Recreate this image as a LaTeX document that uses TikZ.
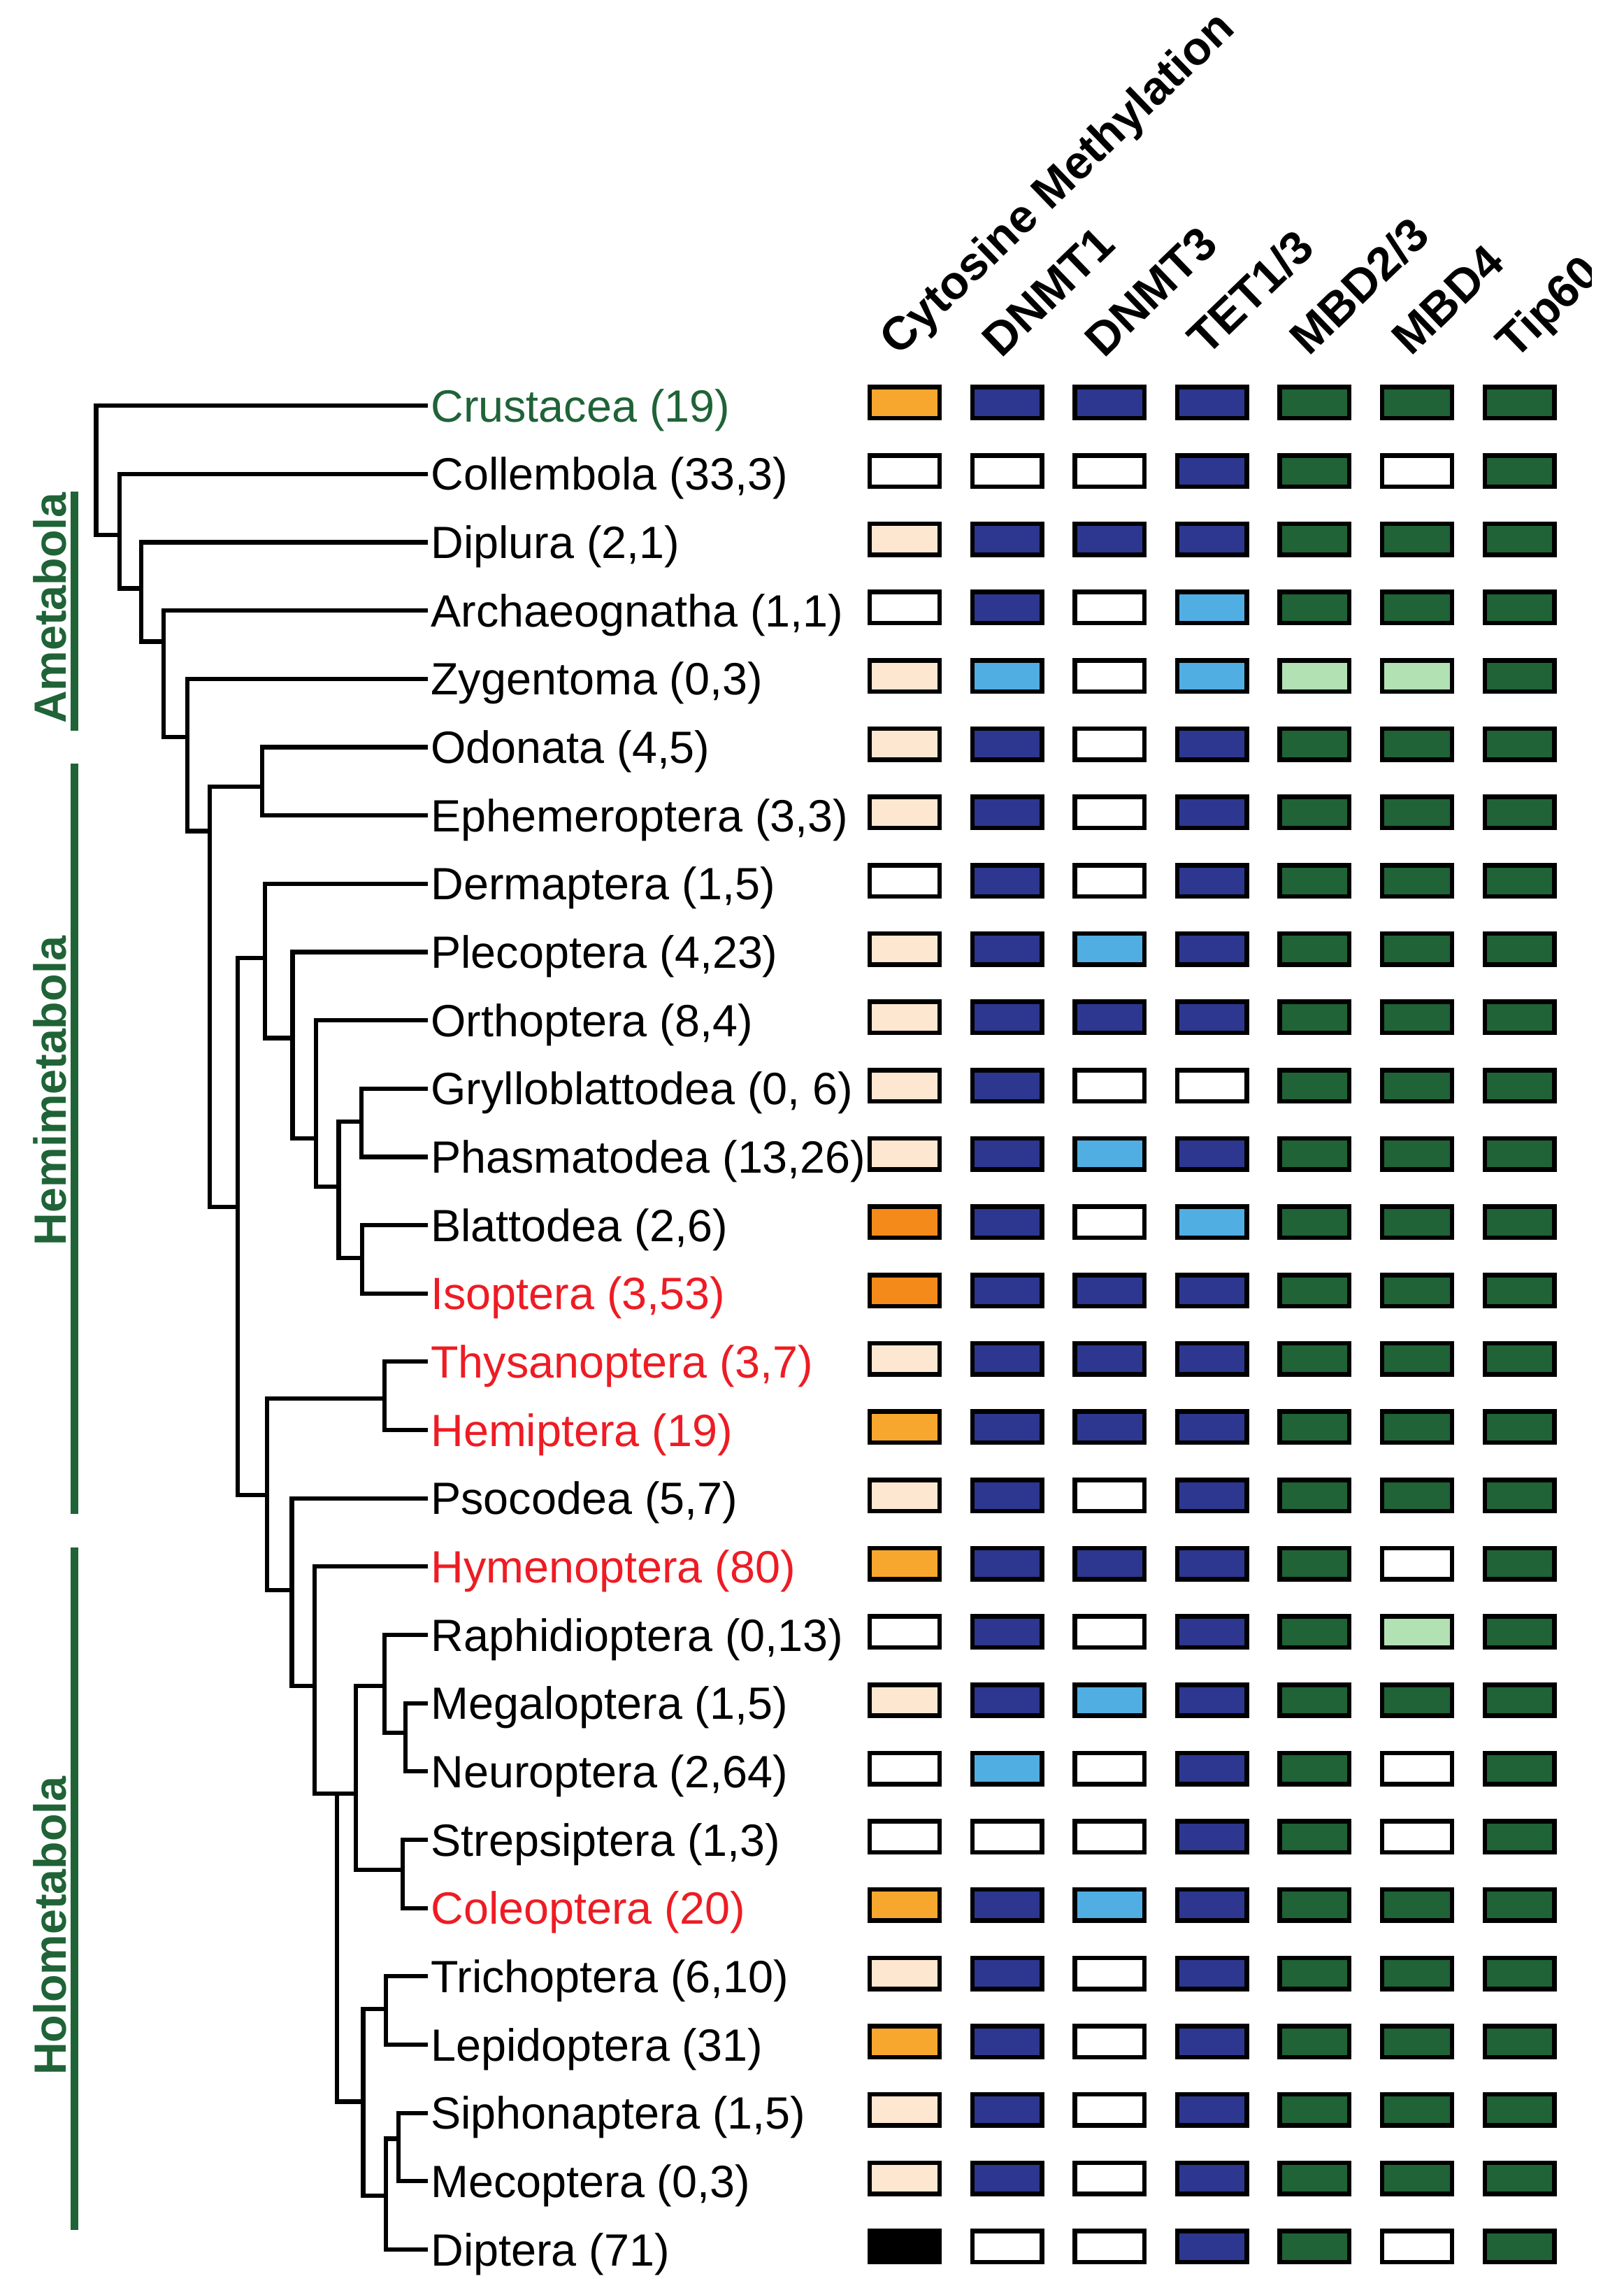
\documentclass[tikz,border=0pt]{standalone}
\usepackage{fontspec}
\setmainfont{Liberation Sans}
\usetikzlibrary{positioning}

\definecolor{cellO}{HTML}{F8A72E}
\definecolor{cellD}{HTML}{F48A1A}
\definecolor{cellP}{HTML}{FEE7D1}
\definecolor{cellW}{HTML}{FFFFFF}
\definecolor{cellK}{HTML}{000000}
\definecolor{cellN}{HTML}{2D3790}
\definecolor{cellB}{HTML}{51AEE3}
\definecolor{cellG}{HTML}{1F6337}
\definecolor{cellL}{HTML}{B2E1B3}
\definecolor{insred}{HTML}{ED1C24}

\begin{document}
\begin{tikzpicture}[x=1pt, y=-1pt]
    \tikzset{leaf/.style={anchor=west, inner xsep=2pt, inner ysep=0pt, text height=22.2pt, text depth=0pt, font=\fontsize{31}{37}\selectfont}}
    \tikzset{branch/.style={line width=3pt, line join=miter}}
    \tikzset{cell/.style={rectangle, draw=black, line width=3.1pt, minimum width=47.7pt, minimum height=21.3pt, inner sep=0pt}}
    \tikzset{header/.style={rotate=44, anchor=base west, inner sep=0pt, font=\fontsize{32}{38}\selectfont\bfseries}}
    \tikzset{group/.style={rotate=90, anchor=base, inner sep=0pt, text=cellG, font=\fontsize{31}{37}\selectfont\bfseries}}
    \tikzset{bar/.style={draw=cellG, line width=5pt}}
    \useasboundingbox (0,0) rectangle (1113,1568);

    % Taxa
    \node[leaf, text=cellG] (crustacea) at (293.2, 278.0) {Crustacea (19)};
    \node[leaf] (collembola) at (293.2, 324.8) {Collembola (33,3)};
    \node[leaf] (diplura) at (293.2, 371.6) {Diplura (2,1)};
    \node[leaf] (archaeognatha) at (293.2, 418.4) {Archaeognatha (1,1)};
    \node[leaf] (zygentoma) at (293.2, 465.2) {Zygentoma (0,3)};
    \node[leaf] (odonata) at (293.2, 512.0) {Odonata (4,5)};
    \node[leaf] (ephemeroptera) at (293.2, 558.8) {Ephemeroptera (3,3)};
    \node[leaf] (dermaptera) at (293.2, 605.6) {Dermaptera (1,5)};
    \node[leaf] (plecoptera) at (293.2, 652.4) {Plecoptera (4,23)};
    \node[leaf] (orthoptera) at (293.2, 699.2) {Orthoptera (8,4)};
    \node[leaf] (grylloblattodea) at (293.2, 746.0) {Grylloblattodea (0, 6)};
    \node[leaf] (phasmatodea) at (293.2, 792.8) {Phasmatodea (13,26)};
    \node[leaf] (blattodea) at (293.2, 839.6) {Blattodea (2,6)};
    \node[leaf, text=insred] (isoptera) at (293.2, 886.4) {Isoptera (3,53)};
    \node[leaf, text=insred] (thysanoptera) at (293.2, 933.2) {Thysanoptera (3,7)};
    \node[leaf, text=insred] (hemiptera) at (293.2, 980.0) {Hemiptera (19)};
    \node[leaf] (psocodea) at (293.2, 1026.8) {Psocodea (5,7)};
    \node[leaf, text=insred] (hymenoptera) at (293.2, 1073.6) {Hymenoptera (80)};
    \node[leaf] (raphidioptera) at (293.2, 1120.4) {Raphidioptera (0,13)};
    \node[leaf] (megaloptera) at (293.2, 1167.2) {Megaloptera (1,5)};
    \node[leaf] (neuroptera) at (293.2, 1214.0) {Neuroptera (2,64)};
    \node[leaf] (strepsiptera) at (293.2, 1260.8) {Strepsiptera (1,3)};
    \node[leaf, text=insred] (coleoptera) at (293.2, 1307.6) {Coleoptera (20)};
    \node[leaf] (trichoptera) at (293.2, 1354.4) {Trichoptera (6,10)};
    \node[leaf] (lepidoptera) at (293.2, 1401.2) {Lepidoptera (31)};
    \node[leaf] (siphonaptera) at (293.2, 1448.0) {Siphonaptera (1,5)};
    \node[leaf] (mecoptera) at (293.2, 1494.8) {Mecoptera (0,3)};
    \node[leaf] (diptera) at (293.2, 1541.6) {Diptera (71)};

    % Internal nodes of the tree
    \coordinate (root) at (65.9, 366.5);
    \coordinate (n2) at (82.0, 366.5);
    \coordinate (n3) at (96.9, 403.3);
    \coordinate (n4) at (112.3, 439.7);
    \coordinate (n5) at (128.4, 505.0);
    \coordinate (n6) at (143.8, 569.6);
    \coordinate (odo eph) at (179.8, 539.2);
    \coordinate (n7) at (163.1, 827.0);
    \coordinate (derm) at (181.5, 656.4);
    \coordinate (plec) at (200.5, 711.4);
    \coordinate (orth) at (216.6, 780.2);
    \coordinate (gry bla) at (232.2, 813.2);
    \coordinate (gry pha) at (247.8, 768.7);
    \coordinate (bla iso) at (248.2, 862.2);
    \coordinate (paraneo) at (183.0, 1024.5);
    \coordinate (thy hem) at (263.6, 958.5);
    \coordinate (psoc) at (200.1, 1089.9);
    \coordinate (holo) at (215.5, 1155.3);
    \coordinate (aparaglossata) at (231.1, 1229.2);
    \coordinate (neuropterida) at (244.0, 1229.2);
    \coordinate (raph) at (263.6, 1155.3);
    \coordinate (meg neu) at (277.8, 1187.4);
    \coordinate (str col) at (276.1, 1281.5);
    \coordinate (mecopterida) at (248.9, 1440.3);
    \coordinate (tri lep) at (264.7, 1376.8);
    \coordinate (antliophora) at (264.7, 1504.6);
    \coordinate (sip mec) at (273.3, 1465.7);

    \draw[branch] (crustacea.west) -| (root) |- (n2);
    \draw[branch] (collembola.west) -| (n2) |- (n3);
    \draw[branch] (diplura.west) -| (n3) |- (n4);
    \draw[branch] (archaeognatha.west) -| (n4) |- (n5);
    \draw[branch] (zygentoma.west) -| (n5) |- (n6);
    \draw[branch] (odo eph) -| (n6) |- (n7);
    \draw[branch] (odonata.west) -| (odo eph) |- (ephemeroptera.west);
    \draw[branch] (derm) -| (n7) |- (paraneo);
    \draw[branch] (dermaptera.west) -| (derm) |- (plec);
    \draw[branch] (plecoptera.west) -| (plec) |- (orth);
    \draw[branch] (orthoptera.west) -| (orth) |- (gry bla);
    \draw[branch] (gry pha) -| (gry bla) |- (bla iso);
    \draw[branch] (grylloblattodea.west) -| (gry pha) |- (phasmatodea.west);
    \draw[branch] (blattodea.west) -| (bla iso) |- (isoptera.west);
    \draw[branch] (thy hem) -| (paraneo) |- (psoc);
    \draw[branch] (thysanoptera.west) -| (thy hem) |- (hemiptera.west);
    \draw[branch] (psocodea.west) -| (psoc) |- (holo);
    \draw[branch] (hymenoptera.west) -| (holo) |- (aparaglossata);
    \draw[branch] (neuropterida) -| (aparaglossata) |- (mecopterida);
    \draw[branch] (raph) -| (neuropterida) |- (str col);
    \draw[branch] (raphidioptera.west) -| (raph) |- (meg neu);
    \draw[branch] (megaloptera.west) -| (meg neu) |- (neuroptera.west);
    \draw[branch] (strepsiptera.west) -| (str col) |- (coleoptera.west);
    \draw[branch] (tri lep) -| (mecopterida) |- (antliophora);
    \draw[branch] (trichoptera.west) -| (tri lep) |- (lepidoptera.west);
    \draw[branch] (sip mec) -| (antliophora) |- (diptera.west);
    \draw[branch] (siphonaptera.west) -| (sip mec) |- (mecoptera.west);

    % Groups
    \coordinate (ame top) at (51, 337.0);
    \coordinate (ame bot) at (51, 500.7);
    \coordinate (hemi top) at (51, 523.2);
    \coordinate (hemi bot) at (51, 1037.6);
    \coordinate (holo top) at (51, 1060.4);
    \coordinate (holo bot) at (51, 1528.2);
    \draw[bar] (ame top) -- (ame bot);
    \draw[bar] (hemi top) -- (hemi bot);
    \draw[bar] (holo top) -- (holo bot);
    \node[group] (ametabola) at (45.4, 416.7) {Ametabola};
    \node[group] (hemimetabola) at (45.4, 747.6) {Hemimetabola};
    \node[group] (holometabola) at (45.4, 1319.8) {Holometabola};

    % Column headers (the last one is cut on the right, as printed)
    \begin{scope}
    \clip (0,0) rectangle (1091,300);
    \node[header] (h cm) at (616.1, 245) {Cytosine Methylation};
    \node[header] (h dnmt1) at (686.5, 246) {DNMT1};
    \node[header] (h dnmt3) at (756.8, 246) {DNMT3};
    \node[header] (h tet) at (827.0, 245) {TET1/3};
    \node[header] (h mbd23) at (897.0, 245) {MBD2/3};
    \node[header] (h mbd4) at (967.3, 245) {MBD4};
    \node[header] (h tip) at (1038.6, 247) {Tip60};
    \end{scope}

    % Presence matrix
    \foreach \r/\cols in {
        0/{O,N,N,N,G,G,G}, 1/{W,W,W,N,G,W,G}, 2/{P,N,N,N,G,G,G},
        3/{W,N,W,B,G,G,G}, 4/{P,B,W,B,L,L,G}, 5/{P,N,W,N,G,G,G},
        6/{P,N,W,N,G,G,G}, 7/{W,N,W,N,G,G,G}, 8/{P,N,B,N,G,G,G},
        9/{P,N,N,N,G,G,G}, 10/{P,N,W,W,G,G,G}, 11/{P,N,B,N,G,G,G},
        12/{D,N,W,B,G,G,G}, 13/{D,N,N,N,G,G,G}, 14/{P,N,N,N,G,G,G},
        15/{O,N,N,N,G,G,G}, 16/{P,N,W,N,G,G,G}, 17/{O,N,N,N,G,W,G},
        18/{W,N,W,N,G,L,G}, 19/{P,N,B,N,G,G,G}, 20/{W,B,W,N,G,W,G},
        21/{W,W,W,N,G,W,G}, 22/{O,N,B,N,G,G,G}, 23/{P,N,W,N,G,G,G},
        24/{O,N,W,N,G,G,G}, 25/{P,N,W,N,G,G,G}, 26/{P,N,W,N,G,G,G},
        27/{K,W,W,N,G,W,G}}
    {
        \foreach \f [count=\c from 0] in \cols
            \node[cell, fill=cell\f] (cell-\r-\c) at ({620.1+70.25*\c}, {276+46.8*\r}) {};
    }
\end{tikzpicture}
\end{document}
